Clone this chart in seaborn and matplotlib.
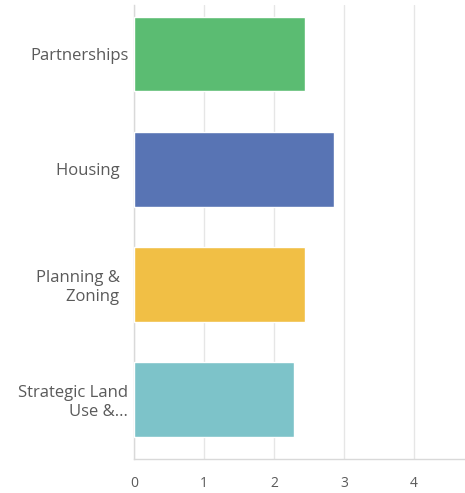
import matplotlib
matplotlib.use("Agg")
import matplotlib.pyplot as plt
import seaborn as sns
import pandas as pd

categories = ["Partnerships", "Housing  ", "Planning &  \nZoning  ", "Strategic Land\nUse &..."]
scores = [2.44, 2.86, 2.44, 2.28]
bar_colors = ["#5bbc72", "#5874b4", "#f1bf45", "#7dc3c9"]
x_ticks = [0, 1, 2, 3, 4]

sns.set_theme(style="white")
plt.rcParams["font.family"] = ["Open Sans", "DejaVu Sans"]

df = pd.DataFrame({"category": categories, "score": scores})

fig = plt.figure(figsize=(4.65, 4.93), dpi=100)
ax = fig.add_axes([0.288, 0.069, 0.712, 0.921])

sns.barplot(data=df, x="score", y="category", hue="category",
            palette=bar_colors, width=0.65, legend=False, ax=ax,
            saturation=1, zorder=3)

ax.set_xlim(0, 4.73)
ax.set_ylim(3.517, -0.426)
ax.set_xticks(x_ticks)
ax.set_xticklabels([str(t) for t in x_ticks])
ax.xaxis.grid(True, color="#e6e6e6", linewidth=1, zorder=0)
ax.set_axisbelow(True)
ax.set_xlabel("")
ax.set_ylabel("")

for side in ["top", "right"]:
    ax.spines[side].set_visible(False)
for side in ["left", "bottom"]:
    ax.spines[side].set_color("#d9d9d9")
    ax.spines[side].set_linewidth(1)

ax.tick_params(axis="x", length=0, pad=12, labelsize=10, labelcolor="#5a5a5a")
ax.tick_params(axis="y", length=0, pad=4, labelsize=12, labelcolor="#5a5a5a")
for lbl in ax.get_yticklabels():
    lbl.set_multialignment("right")

fig.savefig("out.png", dpi=100)
